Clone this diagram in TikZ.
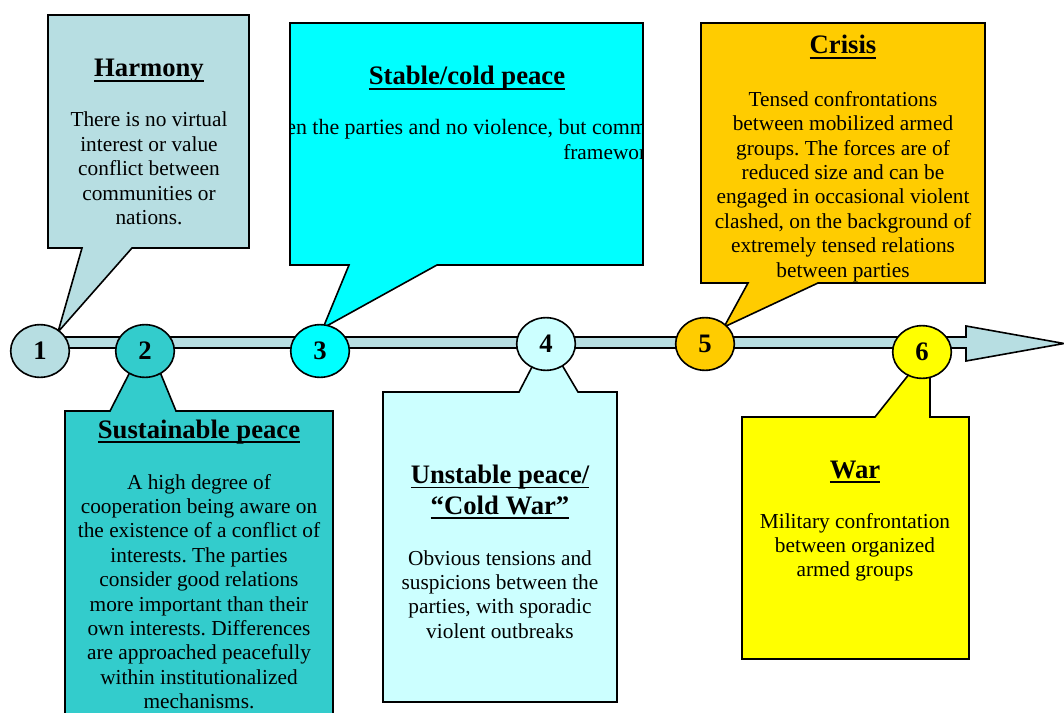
\documentclass[tikz,border=0pt]{standalone}
\usepackage{fontspec}
\setmainfont{Liberation Serif}
\usetikzlibrary{shapes.geometric}
\frenchspacing
\definecolor{cA}{RGB}{183,222,226}
\definecolor{cB}{RGB}{51,204,204}
\definecolor{cC}{RGB}{0,255,255}
\definecolor{cD}{RGB}{204,255,255}
\definecolor{cE}{RGB}{255,204,0}
\definecolor{cF}{RGB}{255,255,0}
\newcommand\myul[1]{\setbox0\hbox{#1}\rlap{\rule[-4pt]{\wd0}{1.4pt}}\box0}
\tikzset{
  outl/.style={draw=black, line width=1.2pt, line join=miter},
  ttl/.style={font=\fontsize{20}{23.2}\selectfont\bfseries, inner sep=0pt, anchor=base, align=center},
  bdy/.style={font=\fontsize{16}{18.3}\selectfont, inner sep=0pt, anchor=base, align=center},
  num/.style={ellipse, draw=black, line width=1.2pt, minimum width=44pt, minimum height=39.5pt, inner sep=0pt, font=\fontsize{20}{22}\selectfont\bfseries}
}
\begin{document}
\begin{tikzpicture}[x=0.75pt,y=-0.75pt]
\useasboundingbox (0,0) rectangle (1064,713);
% timeline arrow
\draw[outl, fill=cA] (40,337) -- (966,337) -- (966,326) -- (1064,343.5) -- (966,361) -- (966,348) -- (40,348) -- cycle;
% callout 1
\draw[outl, fill=cA] (48,15) -- (249,15) -- (249,248) -- (132,248) -- (58,332) -- (82,248) -- (48,248) -- cycle;
\node[ttl] (t1) at (149,77) {\myul{Harmony}};
\node[bdy] (b1) at (149,224.6) {There is no virtual\\interest or value\\conflict between\\communities or\\nations.};
% callout 2
\draw[outl, fill=cB] (65,411) -- (110,411) -- (130,372) -- (160,372) -- (176,411) -- (333,411) -- (333,740) -- (65,740) -- cycle;
\node[ttl] (t2) at (199,438) {\myul{Sustainable peace}};
\node[bdy] (b2) at (199,708.6) {A high degree of\\cooperation being aware on\\the existence of a conflict of\\interests. The parties\\consider good relations\\more important than their\\own interests. Differences\\are approached peacefully\\within institutionalized\\mechanisms.};
% callout 3
\draw[outl, fill=cC] (290,23) -- (643,23) -- (643,265) -- (437,265) -- (323,328) -- (349,265) -- (290,265) -- cycle;
\node[ttl] (t3) at (467,85) {\myul{Stable/cold peace}};
\begin{scope}
  \clip (290.6,23.6) rectangle (642.4,264.4);
  \node[bdy, font=\fontsize{16.45}{18.3}\selectfont, anchor=base west] (b3a) at (286,135) {en the parties and no violence, but comm};
  \node[bdy, anchor=base west] (b3b) at (563,160) {framewor};
\end{scope}
% callout 4
\draw[outl, fill=cD] (383,392) -- (519,392) -- (533,365) -- (562,365) -- (578,392) -- (617,392) -- (617,702) -- (383,702) -- cycle;
\node[ttl] (t4) at (500,514) {\myul{Unstable peace/}\\\myul{“Cold War”}};
\node[bdy] (b4) at (500,638.2) {Obvious tensions and\\suspicions between the\\parties, with sporadic\\violent outbreaks};
% callout 5
\draw[outl, fill=cE] (701,23) -- (985,23) -- (985,283) -- (818,283) -- (724,327) -- (748,283) -- (701,283) -- cycle;
\node[ttl] (t5) at (843,54) {\myul{Crisis}};
\begin{scope}
  \clip (701.6,23.6) rectangle (984.4,282.4);
  \node[bdy] (b5) at (843,277) {Tensed confrontations\\between mobilized armed\\groups. The forces are of\\reduced size and can be\\engaged in occasional violent\\clashed, on the background of\\extremely tensed relations\\between parties};
\end{scope}
% callout 6
\draw[outl, fill=cF] (742,417) -- (875,417) -- (910,373) -- (930,373) -- (930,417) -- (969,417) -- (969,659) -- (742,659) -- cycle;
\node[ttl] (t6) at (855,478) {\myul{War}};
\node[bdy] (b6) at (855,576.8) {Military confrontation\\between organized\\armed groups};
% circles
\node[num, fill=cA] (c1) at (40,351) {1};
\node[num, fill=cB] (c2) at (145,351) {2};
\node[num, fill=cC] (c3) at (320,351) {3};
\node[num, fill=cD] (c4) at (546,344) {4};
\node[num, fill=cE] (c5) at (705,344) {5};
\node[num, fill=cF] (c6) at (922,352) {6};
\end{tikzpicture}
\end{document}
